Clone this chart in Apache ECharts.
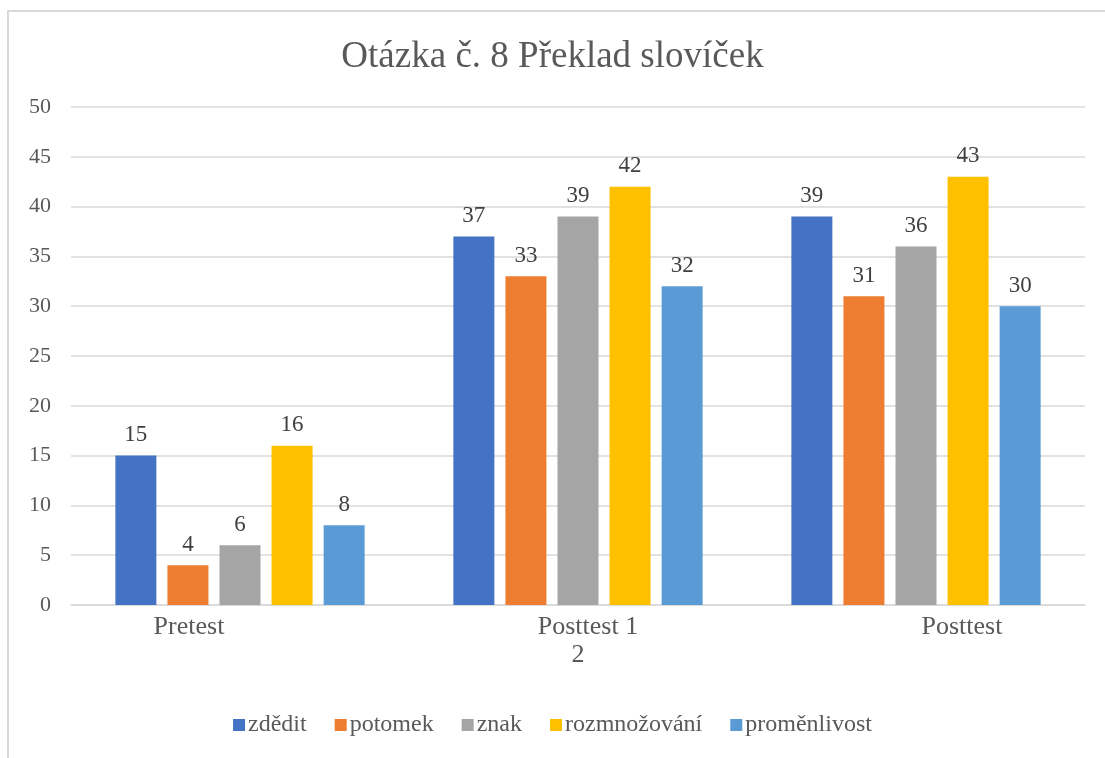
<!DOCTYPE html>
<html>
<head>
<meta charset="utf-8">
<script src="https://cdn.jsdelivr.net/npm/echarts@6/dist/echarts.min.js"></script>
<style>
html,body{margin:0;padding:0;background:#fff;}
#c{width:1105px;height:758px;}
</style>
</head>
<body>
<div id="c"></div>
<script>
var titleText = 'Otázka č. 8 Překlad slovíček';
var categories = ['Pretest', 'Posttest 1\n2', 'Posttest'];
var seriesNames = ['zdědit', 'potomek', 'znak', 'rozmnožování', 'proměnlivost'];
var zdedit = [15, 37, 39];
var potomek = [4, 33, 31];
var znak = [6, 39, 36];
var rozmnozovani = [16, 42, 43];
var promenlivost = [8, 32, 30];
var colors = ['#4472C4', '#ED7D31', '#A5A5A5', '#FFC000', '#5B9BD5'];

var seriesData = [zdedit, potomek, znak, rozmnozovani, promenlivost];
var FONT = '"Liberation Serif", "DejaVu Serif", serif';

var chart = echarts.init(document.getElementById('c'), null, {renderer: 'canvas'});
var xl = {fontFamily: FONT, fontSize: 26, color: '#595959', lineHeight: 28};
chart.setOption({
  animation: false,
  color: colors,
  textStyle: {fontFamily: FONT},
  graphic: [{
    type: 'rect',
    shape: {x: 8, y: 11, width: 1300, height: 900},
    style: {fill: 'none', stroke: '#d9d9d9', lineWidth: 2},
    silent: true, z: -1
  }],
  title: {
    text: titleText,
    left: 'center',
    top: 34,
    textStyle: {fontFamily: FONT, fontSize: 37, fontWeight: 'normal', color: '#595959'}
  },
  legend: {
    bottom: 16,
    left: 'center',
    itemWidth: 12,
    itemHeight: 12,
    itemGap: 28,
    icon: 'rect',
    data: seriesNames,
    textStyle: {fontFamily: FONT, fontSize: 24, color: '#595959', padding: [0, 0, 0, -2]}
  },
  grid: {left: 71, right: 20, top: 107, bottom: 153, containLabel: false},
  xAxis: {
    type: 'category',
    data: categories,
    axisTick: {show: false},
    axisLine: {lineStyle: {color: '#d9d9d9', width: 1.5}},
    axisLabel: {
      margin: 8,
      fontFamily: FONT,
      fontSize: 26,
      color: '#595959',
      lineHeight: 28,
      formatter: function (v, i) {
        if (i === 0) return '{a|' + v + '}';
        if (i === 1) {
          var parts = v.split('\n');
          return '{b|' + parts[0] + '}\n{c|' + parts[1] + '}';
        }
        return '{d|' + v + '}';
      },
      rich: {
        a: Object.assign({}, xl, {padding: [0, 102, 0, 0]}),
        b: Object.assign({}, xl, {padding: [0, 0, 0, 20]}),
        c: Object.assign({}, xl, {padding: [0, 0, 0, 0]}),
        d: Object.assign({}, xl, {padding: [0, 0, 0, 92]})
      }
    }
  },
  yAxis: {
    type: 'value',
    min: 0,
    max: 50,
    interval: 5,
    axisLine: {show: false},
    axisTick: {show: false},
    axisLabel: {margin: 20, fontFamily: FONT, fontSize: 22, color: '#595959'},
    splitLine: {lineStyle: {color: '#d9d9d9', width: 1.5}}
  },
  series: seriesNames.map(function (n, k) {
    return {
      name: n,
      type: 'bar',
      data: seriesData[k],
      barWidth: 41,
      barGap: '27%',
      itemStyle: {color: colors[k]},
      label: {
        show: true,
        position: 'top',
        distance: 9,
        fontFamily: FONT,
        fontSize: 23,
        color: '#404040'
      }
    };
  })
});
</script>
</body>
</html>
